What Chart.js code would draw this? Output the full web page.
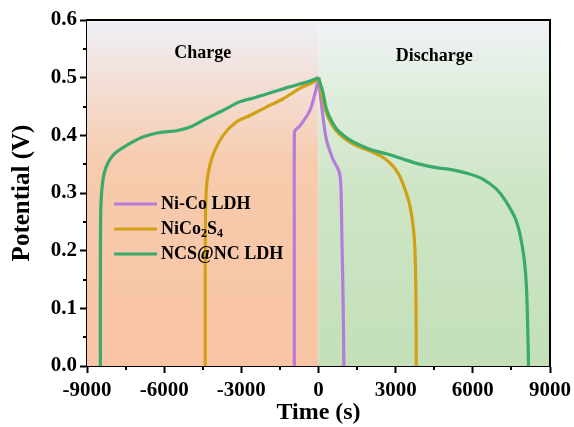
<!DOCTYPE html>
<html>
<head>
<meta charset="utf-8">
<script src="https://cdn.jsdelivr.net/npm/chart.js@4/dist/chart.umd.min.js"></script>
<style>
  html, body { margin: 0; padding: 0; background: #ffffff; }
  #wrap { width: 574px; height: 427px; position: relative; }
</style>
</head>
<body>
<div id="wrap"><canvas id="gcd" width="574" height="427"></canvas></div>
<script>
// Galvanostatic charge / discharge curves (time in s, potential in V)
const seriesNames = ['Ni-Co LDH', 'NiCo\u2082S\u2084', 'NCS@NC LDH'];

const nicoChargeTime = [-940, -940, -936, -880, -780, -660, -540, -416, -300, -222, -89, 0];
const nicoChargeV    = [0, 0.2, 0.405, 0.41, 0.414, 0.42, 0.428, 0.436, 0.447, 0.458, 0.481, 0.5];
const nicoDischargeTime = [0, 104, 300, 556, 700, 800, 850, 875, 893, 910, 945, 975, 984];
const nicoDischargeV    = [0.5, 0.458, 0.394, 0.359, 0.347, 0.337, 0.325, 0.305, 0.27, 0.22, 0.144, 0.05, 0];

const ncsChargeTime = [-4405, -4402, -4380, -4304, -4110, -3721, -3200, -2683, -2033, -1388, -739, -222, 0];
const ncsChargeV    = [0, 0.2, 0.289, 0.33, 0.365, 0.399, 0.423, 0.434, 0.449, 0.463, 0.481, 0.492, 0.5];
const ncsDischargeTime = [0, 300, 688, 1334, 1983, 2500, 2889, 3150, 3350, 3520, 3640, 3720, 3765, 3788, 3798, 3800];
const ncsDischargeV    = [0.5, 0.44, 0.408, 0.385, 0.373, 0.362, 0.347, 0.330, 0.308, 0.284, 0.256, 0.224, 0.18, 0.12, 0.05, 0];

const compChargeTime = [-8480, -8478, -8449, -8320, -7998, -7477, -6831, -6182, -5533, -5015, -4366, -3721, -3072, -2422, -1777, -1128, -478, 0];
const compChargeV    = [0, 0.2, 0.289, 0.336, 0.365, 0.382, 0.397, 0.405, 0.408, 0.414, 0.429, 0.443, 0.458, 0.466, 0.475, 0.484, 0.492, 0.5];
const compDischargeTime = [0, 168, 300, 428, 688, 1000, 1334, 1983, 2632, 3278, 3927, 4576, 5222, 5871, 6388, 6909, 7280, 7687, 7944, 8076, 8138, 8165];
const compDischargeV    = [0.5, 0.475, 0.447, 0.432, 0.412, 0.399, 0.389, 0.376, 0.368, 0.359, 0.350, 0.344, 0.340, 0.333, 0.324, 0.307, 0.286, 0.252, 0.202, 0.144, 0.057, 0];

const timeTicks = [-9000, -6000, -3000, 0, 3000, 6000, 9000];
const potentialTicks = [0.0, 0.1, 0.2, 0.3, 0.4, 0.5, 0.6];
const regionLabels = ['Charge', 'Discharge'];

const seriesColors = ['#b57cdc', '#d2a014', '#38aa6a'];
const SERIF = '"Liberation Serif", "Times New Roman", serif';

function pts(t, v) { return t.map((x, i) => ({ x: x, y: v[i] })); }

function curve(seriesIdx, t, v, order) {
  return {
    label: seriesNames[seriesIdx],
    series: seriesIdx,
    data: pts(t, v),
    borderColor: seriesColors[seriesIdx],
    backgroundColor: seriesColors[seriesIdx],
    borderWidth: 3.2,
    pointRadius: 0,
    showLine: true,
    tension: 0.3,
    fill: false,
    order: order
  };
}

const datasets = [
  curve(0, nicoChargeTime, nicoChargeV, 2),
  curve(0, nicoDischargeTime, nicoDischargeV, 2),
  curve(1, ncsChargeTime, ncsChargeV, 1),
  curve(1, ncsDischargeTime, ncsDischargeV, 1),
  curve(2, compChargeTime, compChargeV, 0),
  curve(2, compDischargeTime, compDischargeV, 0)
];

// shaded charge (left of t = 0) and discharge (right of t = 0) regions
const regionShade = {
  id: 'regionShade',
  beforeDatasetsDraw(chart) {
    const { ctx, chartArea: a, scales: { x } } = chart;
    const x0 = x.getPixelForValue(0);
    ctx.save();
    let g = ctx.createLinearGradient(0, a.top, 0, a.bottom);
    g.addColorStop(0, '#eef0f7');
    g.addColorStop(0.18, '#f3dfd6');
    g.addColorStop(0.42, '#f7cbad');
    g.addColorStop(1, '#f8c4a4');
    ctx.fillStyle = g;
    ctx.fillRect(a.left, a.top, x0 - a.left, a.bottom - a.top);
    g = ctx.createLinearGradient(0, a.top, 0, a.bottom);
    g.addColorStop(0, '#eef2f6');
    g.addColorStop(0.2, '#e0eedd');
    g.addColorStop(0.5, '#cde5c6');
    g.addColorStop(1, '#c3e0b8');
    ctx.fillStyle = g;
    ctx.fillRect(x0, a.top, a.right - x0, a.bottom - a.top);

    ctx.fillStyle = '#000';
    ctx.font = 'bold 18px ' + SERIF;
    ctx.textAlign = 'center';
    ctx.textBaseline = 'middle';
    ctx.fillText(regionLabels[0], x.getPixelForValue(-4500), chart.scales.y.getPixelForValue(0.543));
    ctx.fillText(regionLabels[1], x.getPixelForValue(4500), chart.scales.y.getPixelForValue(0.537));
    ctx.restore();
  }
};

// frame, minor ticks and the in-plot legend
const subDigits = { '\u2080': '0', '\u2081': '1', '\u2082': '2', '\u2083': '3', '\u2084': '4' };
const frameAndLegend = {
  id: 'frameAndLegend',
  afterDraw(chart) {
    const { ctx, chartArea: a, scales: { x, y } } = chart;
    ctx.save();
    ctx.strokeStyle = '#000';
    ctx.lineWidth = 2;
    ctx.beginPath();
    ctx.moveTo(a.left, a.top); ctx.lineTo(a.right, a.top); ctx.lineTo(a.right, a.bottom);
    ctx.stroke();
    ctx.beginPath();
    for (let t = -7500; t < 9000; t += 3000) {
      const px = Math.round(x.getPixelForValue(t));
      ctx.moveTo(px, a.bottom); ctx.lineTo(px, a.bottom + 4);
    }
    for (let v = 0.05; v < 0.6; v += 0.1) {
      const py = Math.round(y.getPixelForValue(v));
      ctx.moveTo(a.left, py); ctx.lineTo(a.left - 4, py);
    }
    ctx.stroke();

    // legend: one entry per material
    const lx = a.left + 27, ly = a.top + 184, gap = 25;
    ctx.textBaseline = 'middle';
    ctx.textAlign = 'left';
    seriesNames.forEach((name, i) => {
      const yy = ly + i * gap;
      ctx.strokeStyle = seriesColors[i];
      ctx.lineWidth = 3.2;
      ctx.beginPath();
      ctx.moveTo(lx, yy); ctx.lineTo(lx + 43, yy);
      ctx.stroke();
      ctx.fillStyle = '#000';
      let tx = lx + 47;
      for (const ch of name) {
        if (subDigits[ch]) {
          ctx.font = 'bold 12px ' + SERIF;
          ctx.fillText(subDigits[ch], tx, yy + 5);
          tx += ctx.measureText(subDigits[ch]).width;
        } else {
          ctx.font = 'bold 18px ' + SERIF;
          ctx.fillText(ch, tx, yy);
          tx += ctx.measureText(ch).width;
        }
      }
    });
    ctx.restore();
  }
};

const isMajorX = v => Math.abs(v % 3000) < 1e-6;
const isMajorY = v => Math.abs(Math.round(v * 100) % 10) === 0;

new Chart(document.getElementById('gcd'), {
  type: 'scatter',
  data: { datasets: datasets },
  options: {
    responsive: false,
    animation: false,
    layout: { padding: { top: 20, right: 24, left: 0, bottom: 0 } },
    plugins: { legend: { display: false }, tooltip: { enabled: false } },
    elements: { line: { capBezierPoints: true } },
    scales: {
      x: {
        type: 'linear',
        min: timeTicks[0],
        max: timeTicks[timeTicks.length - 1],
        afterFit(s) { s.height = 61; s.paddingLeft = 0; s.paddingRight = 0; },
        ticks: {
          stepSize: 1500,
          autoSkip: false,
          maxRotation: 0,
          padding: 5,
          color: '#000',
          font: { family: SERIF, size: 21, weight: 'bold' },
          callback: v => (timeTicks.includes(v) ? String(v) : '')
        },
        grid: {
          drawOnChartArea: false,
          tickLength: 7,
          tickWidth: 2,
          tickColor: c => (isMajorX(c.tick.value) ? '#000' : 'rgba(0,0,0,0)')
        },
        border: { display: true, color: '#000', width: 2 },
        title: {
          display: true,
          text: 'Time (s)',
          color: '#000',
          font: { family: SERIF, size: 24, weight: 'bold' },
          padding: { top: 0, bottom: 0 }
        }
      },
      y: {
        type: 'linear',
        min: potentialTicks[0],
        max: potentialTicks[potentialTicks.length - 1],
        afterFit(s) { s.width = 87; s.paddingTop = 0; s.paddingBottom = 0; },
        ticks: {
          stepSize: 0.05,
          autoSkip: false,
          padding: 3,
          color: '#000',
          font: { family: SERIF, size: 21, weight: 'bold' },
          callback: v => (isMajorY(v) ? Number(v).toFixed(1) : '')
        },
        grid: {
          drawOnChartArea: false,
          tickLength: 7,
          tickWidth: 2,
          tickColor: c => (isMajorY(c.tick.value) ? '#000' : 'rgba(0,0,0,0)')
        },
        border: { display: true, color: '#000', width: 2 },
        title: {
          display: true,
          text: 'Potential (V)',
          color: '#000',
          font: { family: SERIF, size: 25, weight: 'bold' },
          padding: { top: 8, bottom: 0 }
        }
      }
    }
  },
  plugins: [regionShade, frameAndLegend]
});
</script>
</body>
</html>
